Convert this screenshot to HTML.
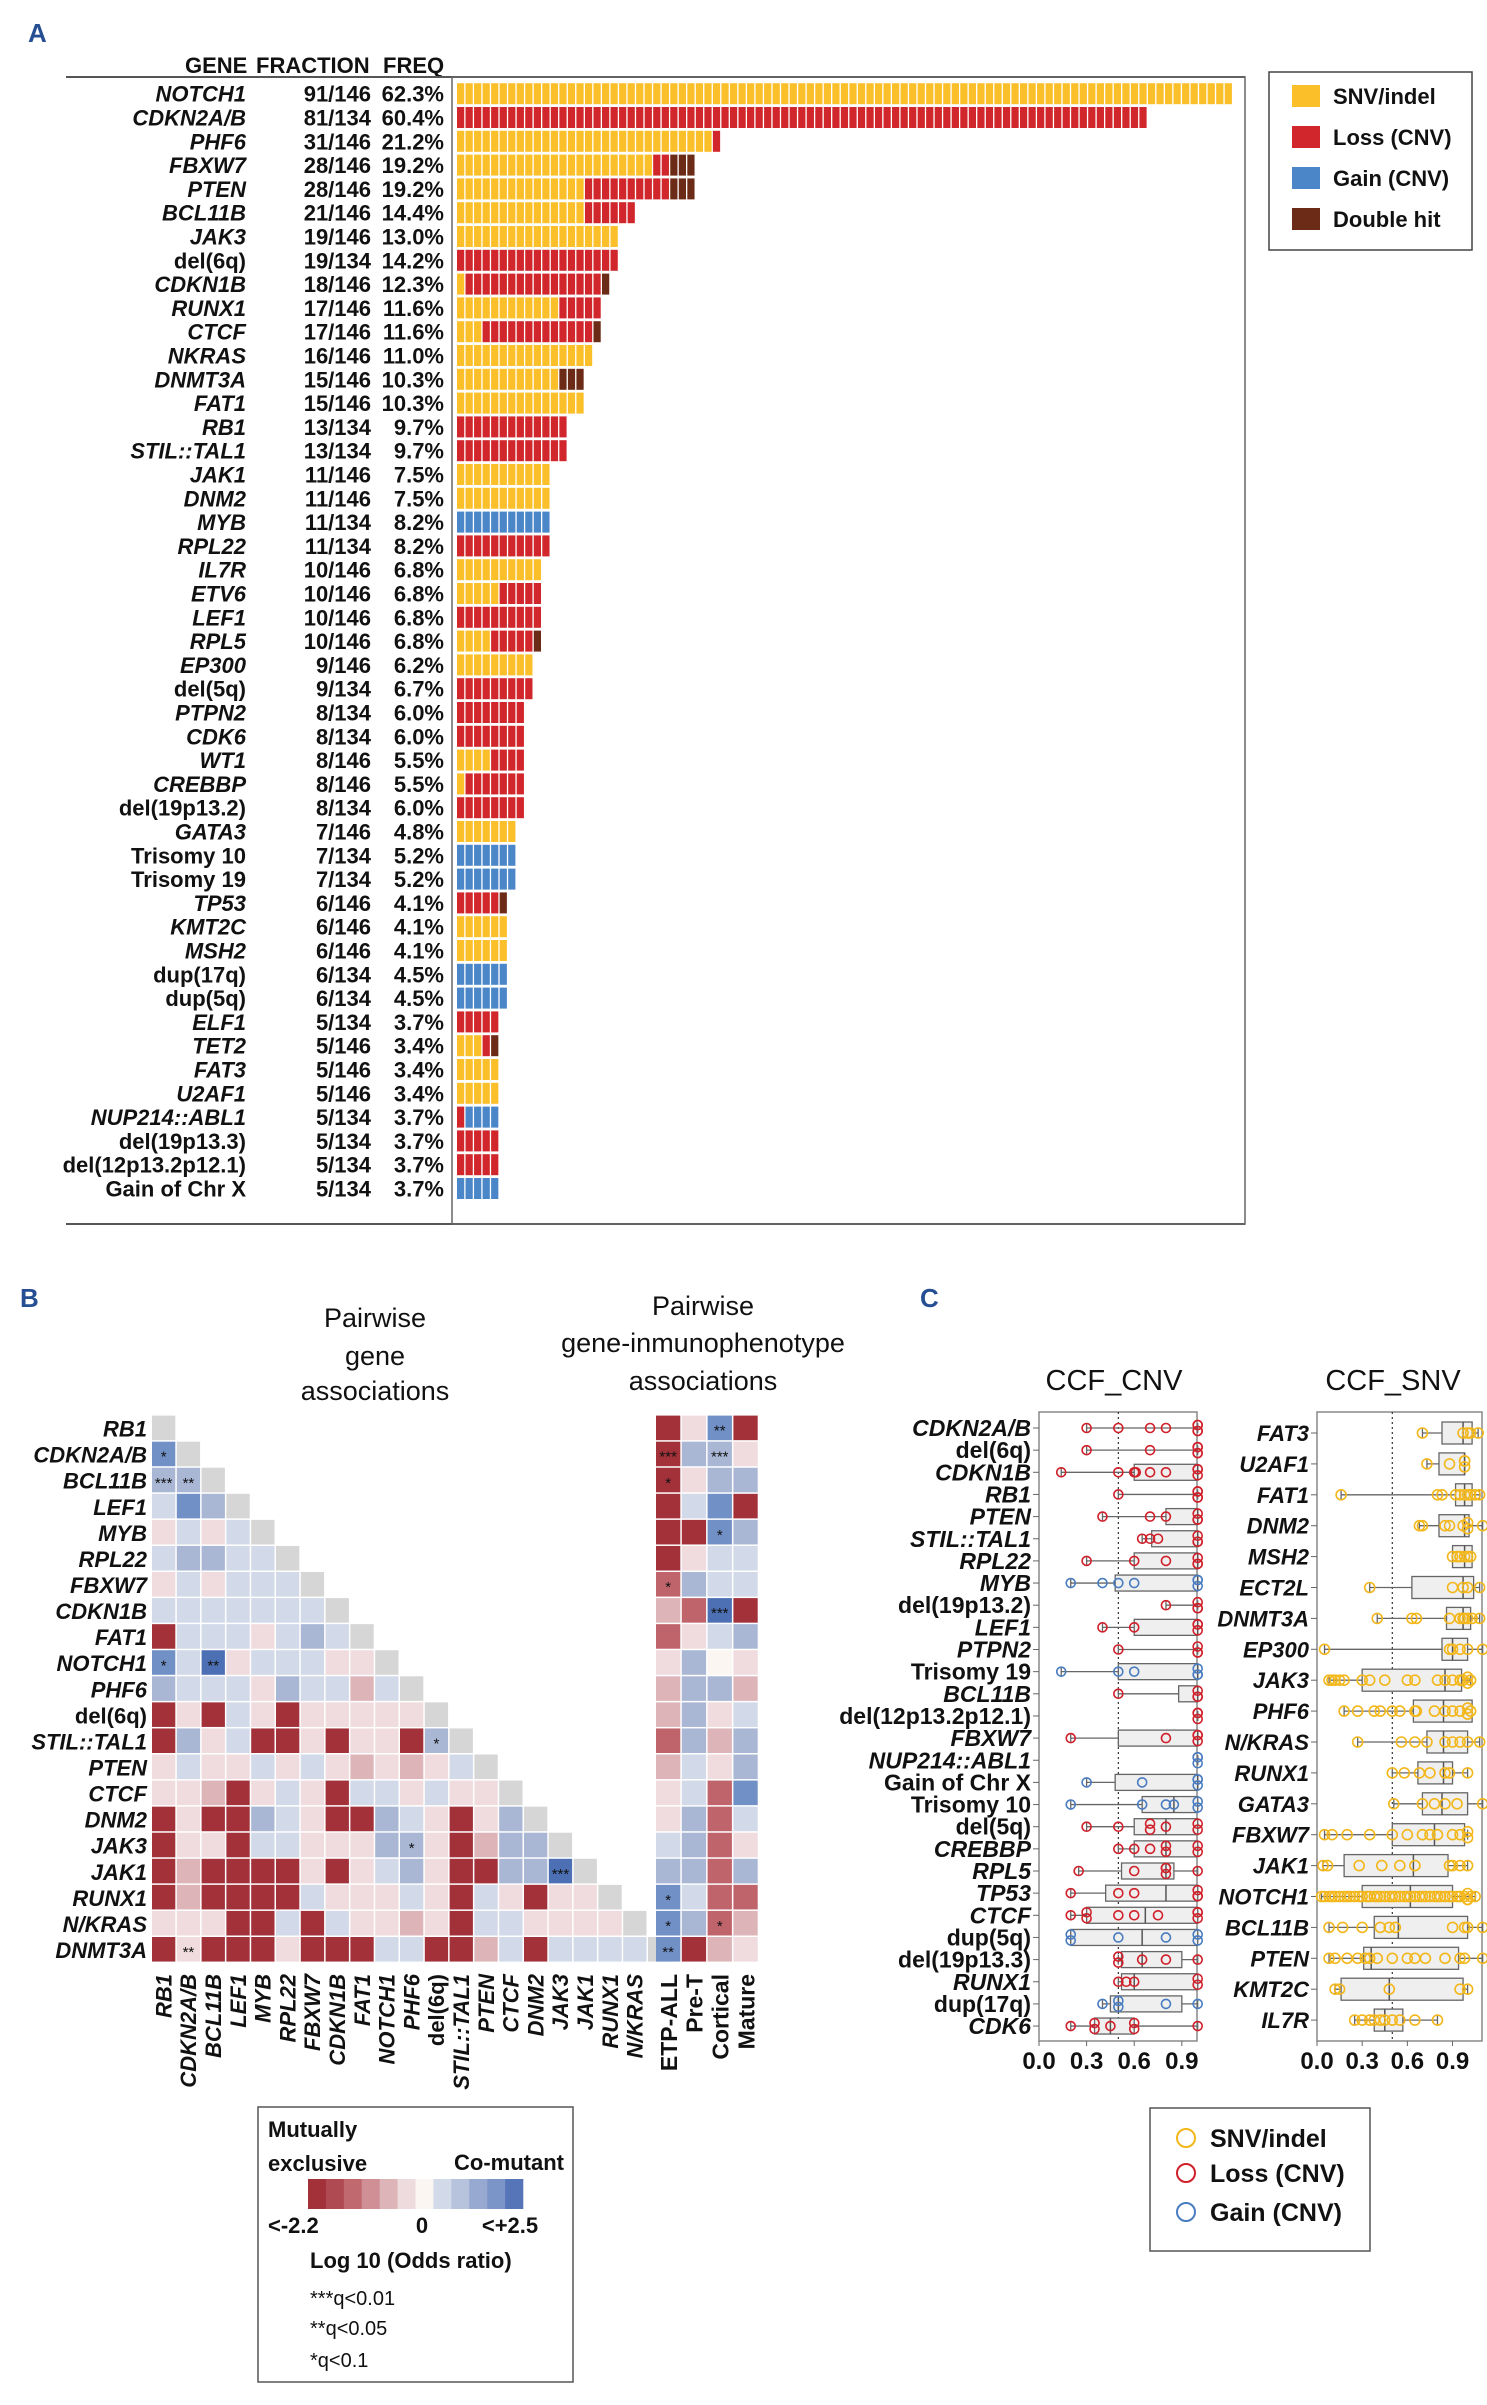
<!DOCTYPE html>
<html><head><meta charset="utf-8">
<style>
html,body{margin:0;padding:0;background:#fff;}
svg{display:block;}
text{font-family:"Liberation Sans Narrow","Liberation Sans",sans-serif;fill:#111;}
.b{font-family:"Liberation Sans",sans-serif;font-weight:bold;}
</style></head>
<body>
<svg id="fig" xmlns="http://www.w3.org/2000/svg" width="1487" height="2405" viewBox="0 0 1487 2405">
<rect x="0" y="0" width="1487" height="2405" fill="#fff"/>
</svg>
<script>
// ---------- Panel A data ----------
const aGenes=["NOTCH1","CDKN2A/B","PHF6","FBXW7","PTEN","BCL11B","JAK3","del(6q)","CDKN1B","RUNX1","CTCF","NKRAS","DNMT3A","FAT1","RB1","STIL::TAL1","JAK1","DNM2","MYB","RPL22","IL7R","ETV6","LEF1","RPL5","EP300","del(5q)","PTPN2","CDK6","WT1","CREBBP","del(19p13.2)","GATA3","Trisomy 10","Trisomy 19","TP53","KMT2C","MSH2","dup(17q)","dup(5q)","ELF1","TET2","FAT3","U2AF1","NUP214::ABL1","del(19p13.3)","del(12p13.2p12.1)","Gain of Chr X"];
const aFrac=["91/146","81/134","31/146","28/146","28/146","21/146","19/146","19/134","18/146","17/146","17/146","16/146","15/146","15/146","13/134","13/134","11/146","11/146","11/134","11/134","10/146","10/146","10/146","10/146","9/146","9/134","8/134","8/134","8/146","8/146","8/134","7/146","7/134","7/134","6/146","6/146","6/146","6/134","6/134","5/134","5/146","5/146","5/146","5/134","5/134","5/134","5/134"];
const aFreq=["62.3%","60.4%","21.2%","19.2%","19.2%","14.4%","13.0%","14.2%","12.3%","11.6%","11.6%","11.0%","10.3%","10.3%","9.7%","9.7%","7.5%","7.5%","8.2%","8.2%","6.8%","6.8%","6.8%","6.8%","6.2%","6.7%","6.0%","6.0%","5.5%","5.5%","6.0%","4.8%","5.2%","5.2%","4.1%","4.1%","4.1%","4.5%","4.5%","3.7%","3.4%","3.4%","3.4%","3.7%","3.7%","3.7%","3.7%"];
const aSnv   =[91,0,30,23,15,15,19,0,1,12,3,16,12,15,0,0,11,11,0,0,10,5,0,4,9,0,0,0,4,1,0,7,0,0,0,6,6,0,0,0,3,5,5,0,0,0,0];
const aLoss  =[0,81,1,2,10,6,0,19,16,5,13,0,0,0,13,13,0,0,0,11,0,5,10,5,0,9,8,8,4,7,8,0,0,0,5,0,0,0,0,5,1,0,0,1,5,5,0];
const aGain  =[0,0,0,0,0,0,0,0,0,0,0,0,0,0,0,0,0,0,11,0,0,0,0,0,0,0,0,0,0,0,0,0,7,7,0,0,0,6,6,0,0,0,0,4,0,0,5];
const aDouble=[0,0,0,3,3,0,0,0,1,0,1,0,3,0,0,0,0,0,0,0,0,0,0,1,0,0,0,0,0,0,0,0,0,0,1,0,0,0,0,0,1,0,0,0,0,0,0];
const aLegend=["SNV/indel","Loss (CNV)","Gain (CNV)","Double hit"];

// ---------- Panel B data ----------
const bGenes=["RB1","CDKN2A/B","BCL11B","LEF1","MYB","RPL22","FBXW7","CDKN1B","FAT1","NOTCH1","PHF6","del(6q)","STIL::TAL1","PTEN","CTCF","DNM2","JAK3","JAK1","RUNX1","N/KRAS","DNMT3A"];
const bPhenos=["ETP-ALL","Pre-T","Cortical","Mature"];
const bPair=["","B","mm","bBm","rbrb","bmmbb","rbrbbb","bbbbbbb","Dbbbrbmb","BbSrbbbrr","mbbbrmbbpb","DrDbrDrrrrr","DmrbDDrDrrDm","rbrrbrbrprprb","rrpDrbrDbbrbrr","DrDDmbrDDmbrDrm","DrrDbbrrrmmrDpmm","DpDDDDrDrbmrDDmmS","DpDDDDbrrrbrDbrDrr","rrrDDbDbrrprDbbrrrr","DrDDDrDDDbbDDpbDbbbb"];
const bPairStars=[[1,0,"*"],[2,0,"***"],[2,1,"**"],[9,0,"*"],[9,2,"**"],[12,11,"*"],[16,10,"*"],[17,16,"***"],[20,1,"**"]];
const bPhen=["DrBD","Dmmr","Drmm","DbBD","DDBm","Drbb","Rmbb","pRSD","Rrbm","rmwr","pmmp","pmrb","Rmpm","pbrm","rbRB","rmRb","bmRr","mmRm","BbRR","BmRp","BDpr"];
const bPhenStars=[[0,2,"**"],[1,0,"***"],[1,2,"***"],[2,0,"*"],[4,2,"*"],[6,0,"*"],[7,2,"***"],[18,0,"*"],[19,0,"*"],[19,2,"*"],[20,0,"**"]];
const bScale=["#a2313a","#b04a52","#c06a70","#cf8f94","#ddb5b9","#eedbdd","#fbf6f2","#d2d9e8","#b7c3dd","#97a9d1","#7c95c8","#5675b8"];
const bScaleLabels=["<-2.2","0","<+2.5"];

// ---------- Panel C data ----------
const cnvGenes=["CDKN2A/B","del(6q)","CDKN1B","RB1","PTEN","STIL::TAL1","RPL22","MYB","del(19p13.2)","LEF1","PTPN2","Trisomy 19","BCL11B","del(12p13.2p12.1)","FBXW7","NUP214::ABL1","Gain of Chr X","Trisomy 10","del(5q)","CREBBP","RPL5","TP53","CTCF","dup(5q)","del(19p13.3)","RUNX1","dup(17q)","CDK6"];
const cnvType=["L","L","L","L","L","L","L","G","L","L","L","G","L","L","L","G","G","G","L","L","L","L","L","G","L","L","G","L"];
const cnvQ1 =[null,null,0.6,null,0.8,0.71,0.6,0.48,null,0.6,null,0.5,0.88,null,0.5,null,0.48,0.65,0.6,0.6,0.52,0.42,0.3,0.2,0.52,0.52,0.45,0.35];
const cnvMed=[null,null,1,null,1,1,1,1,null,1,null,1,1,null,1,null,1,0.85,0.8,0.8,0.8,0.8,0.67,0.65,0.65,0.6,0.5,0.45];
const cnvQ3 =[null,null,1,null,1,1,1,1,null,1,null,1,1,null,1,null,1,1,1,1,0.85,1,1,1,0.9,1,0.9,0.6];
const cnvPts=[[0.3,0.5,0.7,0.8,1,1,1,1],[0.3,0.7,1,1,1,1],[0.14,0.5,0.6,0.61,0.7,0.8,1,1,1],[0.5,1,1,1,1],[0.4,0.7,0.8,1,1,1],[0.65,0.7,0.75,1,1,1],[0.3,0.6,0.8,1,1,1],[0.2,0.4,0.5,0.6,1,1,1],[0.8,1,1,1],[0.4,0.6,1,1,1],[0.5,1,1,1],[0.14,0.5,0.6,1,1,1],[0.5,1,1,1],[1,1,1],[0.2,0.8,1,1,1],[1,1,1],[0.3,0.65,1,1,1],[0.2,0.65,0.8,0.85,1,1],[0.3,0.5,0.7,0.7,0.8,1,1],[0.5,0.6,0.7,0.8,0.8,1,1],[0.25,0.6,0.8,0.8,0.8,1],[0.2,0.5,0.6,1,1,1],[0.2,0.3,0.3,0.5,0.6,0.75,1,1,1],[0.2,0.2,0.5,0.8,1,1],[0.5,0.5,0.65,0.8,1],[0.5,0.55,0.6,1,1],[0.4,0.5,0.5,0.8,1],[0.2,0.35,0.35,0.45,0.6,0.6,1]];
const snvGenes=["FAT3","U2AF1","FAT1","DNM2","MSH2","ECT2L","DNMT3A","EP300","JAK3","PHF6","N/KRAS","RUNX1","GATA3","FBXW7","JAK1","NOTCH1","BCL11B","PTEN","KMT2C","IL7R"];
const snvQ1 =[0.83,0.81,0.92,0.81,0.9,0.63,0.86,0.83,0.3,0.64,0.73,0.67,0.7,0.5,0.18,0.3,0.38,0.31,0.16,0.38];
const snvMed=[0.97,0.98,0.98,0.98,0.98,0.97,0.97,0.9,0.85,0.84,0.84,0.84,0.83,0.78,0.64,0.62,0.54,0.36,0.48,0.45];
const snvQ3 =[1.03,0.98,1.03,1.01,1.03,1.04,1.02,1.0,0.96,1.03,1.0,0.9,1.0,0.98,0.87,0.9,1.0,0.94,0.97,0.57];
const snvPts=[[0.7,0.97,1.0,1.02,1.07],[0.73,0.88,0.98,0.98,0.98],[0.16,0.8,0.83,0.92,0.95,0.98,1,1.02,1.05,1.08],[0.68,0.7,0.85,0.88,0.97,1,1.0,1.1],[0.9,0.93,0.95,0.98,1.0,1.02],[0.35,0.9,0.97,1.0,1.08],[0.4,0.63,0.66,0.88,0.95,0.97,0.98,1.0,1.03,1.08],[0.05,0.88,0.9,0.95,1,1.1],[0.08,0.1,0.12,0.15,0.18,0.3,0.35,0.45,0.6,0.65,0.8,0.85,0.9,0.95,0.97,1.0,1.0,1.02],[0.18,0.27,0.38,0.42,0.5,0.55,0.65,0.66,0.78,0.85,0.9,0.95,1.0,1.0,1.02],[0.27,0.56,0.65,0.73,0.85,0.9,0.95,1.0,1.08],[0.5,0.58,0.68,0.75,0.85,0.88,1.0],[0.51,0.7,0.78,0.85,0.93,1.1],[0.05,0.1,0.2,0.35,0.5,0.6,0.7,0.75,0.8,0.9,0.95,1.0,1.0],[0.04,0.07,0.28,0.43,0.55,0.65,0.88,0.9,0.95,1.0],[0.03,0.05,0.08,0.1,0.12,0.15,0.18,0.2,0.22,0.25,0.28,0.3,0.33,0.35,0.38,0.4,0.42,0.45,0.48,0.5,0.52,0.55,0.58,0.6,0.62,0.65,0.68,0.7,0.72,0.75,0.78,0.8,0.82,0.85,0.88,0.9,0.93,0.95,0.98,1.0,1.0,1.0,1.02,1.05],[0.08,0.17,0.3,0.42,0.48,0.52,0.9,0.98,1.0,1.1],[0.08,0.12,0.2,0.27,0.32,0.35,0.4,0.5,0.6,0.65,0.72,0.85,0.95,0.98,1.1],[0.12,0.15,0.48,0.95,1.0],[0.25,0.3,0.35,0.38,0.42,0.45,0.5,0.55,0.65,0.8]];
const cTicks=[0.0,0.3,0.6,0.9];

const NS="http://www.w3.org/2000/svg";
const svg=document.getElementById("fig");
function mk(tag,attrs,name,parent){
  const el=document.createElementNS(NS,tag);
  for(const k in attrs) el.setAttribute(k,attrs[k]);
  
  
  (parent||svg).appendChild(el);
  return el;
}
function txt(x,y,s,name,attrs){
  const a=Object.assign({x:x,y:y},attrs||{});
  const t=mk("text",a,name);
  t.textContent=s;
  return t;
}
const cyto=s=>/^(del|dup|Trisomy|Gain)/.test(s);
const BLUE="#254f92";

// ================= PANEL A =================
txt(28,42,"A","panel-a-label",{"class":"b","font-size":"26",style:"fill:"+BLUE});
txt(185,73,"GENE","header-gene",{"font-size":"22","font-weight":"bold"});
txt(256,73,"FRACTION","header-fraction",{"font-size":"22","font-weight":"bold"});
txt(383,73,"FREQ","header-freq",{"font-size":"22","font-weight":"bold"});
mk("line",{x1:66,y1:77,x2:1245,y2:77,stroke:"#555","stroke-width":"2"},"table-top-rule");
mk("line",{x1:66,y1:1224,x2:1245,y2:1224,stroke:"#555","stroke-width":"2"},"table-bottom-rule");
mk("rect",{x:452,y:77,width:793,height:1147,fill:"none",stroke:"#666","stroke-width":"1.5"},"bar-plot-frame");
const aX0=457,aU=8.53,aY0=93.7,aDY=23.8;
const aCols=["#fbbf2a","#d1262b","#4a86c8","#6b2b17"];
aGenes.forEach((g,i)=>{
  const cy=aY0+i*aDY;
  txt(246,cy+8,g,"gene-label",{"font-size":"22","font-weight":"bold","text-anchor":"end","font-style":cyto(g)?"normal":"italic"});
  txt(371,cy+8,aFrac[i],"fraction-label",{"font-size":"22","font-weight":"bold","text-anchor":"end"});
  txt(444,cy+8,aFreq[i],"freq-label",{"font-size":"22","font-weight":"bold","text-anchor":"end"});
  const counts=[aSnv[i],aLoss[i],aGain[i],aDouble[i]];
  let u=0;
  counts.forEach((c,k)=>{
    for(let j=0;j<c;j++){
      mk("rect",{x:aX0+u*aU,y:cy-10.5,width:aU-1.3,height:21,fill:aCols[k]},"bar-unit");
      u++;
    }
  });
});
mk("rect",{x:1269,y:72,width:203,height:178,fill:"#fff",stroke:"#444","stroke-width":"1.5"},"legend-a-box");
aLegend.forEach((s,k)=>{
  const cy=96+k*41;
  mk("rect",{x:1292,y:cy-11,width:28,height:22,fill:aCols[k]},"legend-a-swatch");
  txt(1333,cy+8,s,"legend-a-entry",{"font-size":"22","font-weight":"bold"});
});

// ================= PANEL B =================
txt(20,1307,"B","panel-b-label",{"class":"b","font-size":"26",style:"fill:"+BLUE});
txt(920,1307,"C","panel-c-label",{"class":"b","font-size":"26",style:"fill:"+BLUE});
[["Pairwise",1327],["gene",1365],["associations",1400]].forEach(a=>txt(375,a[1],a[0],"pairwise-gene-title",{"font-size":"27","text-anchor":"middle","font-family":"Liberation Sans"}));
[["Pairwise",1315],["gene-inmunophenotype",1352],["associations",1390]].forEach(a=>txt(703,a[1],a[0],"pairwise-phenotype-title",{"font-size":"27","text-anchor":"middle","font-family":"Liberation Sans"}));
const hmX0=152,hmDX=24.8,hmY0=1415.6,hmDY=26.07,phX0=656,phDX=25.8;
const cmap={D:"#a2313a",R:"#c0646c",p:"#ddb5b9",r:"#f0dcde",w:"#fbf6f2",b:"#d2d9e8",m:"#a9b7d5",B:"#7090c6",S:"#4d70b5"};
bGenes.forEach((g,i)=>{
  const y=hmY0+i*hmDY;
  txt(147,y+21,g,"heatmap-row-label",{"class":"b","font-size":"22","text-anchor":"end","font-style":cyto(g)?"normal":"italic"});
  const row=bPair[i];
  for(let j=0;j<row.length;j++){
    mk("rect",{x:hmX0+j*hmDX,y:y,width:hmDX-1.5,height:hmDY-1.5,fill:cmap[row[j]]},"pair-cell");
  }
  mk("rect",{x:hmX0+i*hmDX,y:y,width:hmDX-1.5,height:hmDY-1.5,fill:"#d6d6d6"},"diagonal-cell");
  const prow=bPhen[i];
  for(let j=0;j<4;j++){
    mk("rect",{x:phX0+j*phDX,y:y,width:phDX-1.5,height:hmDY-1.5,fill:cmap[prow[j]]},"phenotype-cell");
  }
});
bPairStars.forEach(s=>txt(hmX0+s[1]*hmDX+hmDX/2-0.75,hmY0+s[0]*hmDY+hmDY/2+7,s[2],"significance-star",{"font-size":"15","text-anchor":"middle","font-family":"Liberation Sans"}));
bPhenStars.forEach(s=>txt(phX0+s[1]*phDX+phDX/2-0.75,hmY0+s[0]*hmDY+hmDY/2+7,s[2],"significance-star",{"font-size":"15","text-anchor":"middle","font-family":"Liberation Sans"}));
bGenes.slice(0,20).forEach((g,j)=>{
  const cx=hmX0+j*hmDX+hmDX/2+7;
  txt(0,0,g,"heatmap-col-label",{"class":"b","font-size":"22","text-anchor":"end","font-style":cyto(g)?"normal":"italic",transform:"translate("+cx+",1974) rotate(-90)"});
});
bPhenos.forEach((g,j)=>{
  const cx=phX0+j*phDX+phDX/2+8;
  txt(0,0,g,"phenotype-col-label",{"class":"b","font-size":"23","text-anchor":"end",transform:"translate("+cx+",1974) rotate(-90)"});
});
// legend B
mk("rect",{x:258,y:2107,width:315,height:275,fill:"#fff",stroke:"#555","stroke-width":"1.5"},"legend-b-box");
txt(268,2137,"Mutually","legend-mutually",{"font-size":"22","font-weight":"bold"});
txt(268,2171,"exclusive","legend-exclusive",{"font-size":"22","font-weight":"bold"});
txt(564,2170,"Co-mutant","legend-comutant",{"font-size":"22","font-weight":"bold","text-anchor":"end"});
const sw=(523-308)/bScale.length;
bScale.forEach((c,k)=>mk("rect",{x:308+k*sw,y:2179,width:sw+0.3,height:30,fill:c},"color-scale-step"));
txt(268,2233,bScaleLabels[0],"scale-min-label",{"font-size":"22","font-weight":"bold"});
txt(422,2233,bScaleLabels[1],"scale-zero-label",{"font-size":"22","font-weight":"bold","text-anchor":"middle"});
txt(510,2233,bScaleLabels[2],"scale-max-label",{"font-size":"22","font-weight":"bold","text-anchor":"middle"});
txt(310,2268,"Log 10 (Odds ratio)","scale-title",{"font-size":"22","font-weight":"bold"});
txt(310,2305,"***q<0.01","legend-q001",{"font-size":"20"});
txt(310,2335,"**q<0.05","legend-q005",{"font-size":"20"});
txt(310,2367,"*q<0.1","legend-q01",{"font-size":"20"});

// ================= PANEL C =================
const ccol={L:"#d0202a",G:"#4a7cc0",S:"#f3b71b"};
function boxPanel(x0,x1,unit,yTop,yBot,genes,q1,med,q3,pts,types,yStart,dy,bh,pr,lblFont,name){
  mk("rect",{x:x0,y:yTop,width:x1-x0,height:yBot-yTop,fill:"#fff",stroke:"#888","stroke-width":"1.5"},name+"-frame");
  const X=v=>x0+v*unit;
  mk("line",{x1:X(0.5),y1:yTop,x2:X(0.5),y2:yBot,stroke:"#333","stroke-width":"1.2","stroke-dasharray":"2,3"},name+"-threshold-line");
  cTicks.forEach(t=>{
    mk("line",{x1:X(t),y1:yBot,x2:X(t),y2:yBot+5,stroke:"#666"},name+"-tick");
    txt(X(t),2069,t.toFixed(1),name+"-tick-label",{"class":"b","font-size":"24","text-anchor":"middle"});
  });
  genes.forEach((g,i)=>{
    const cy=yStart+i*dy;
    const col=ccol[types[i]];
    mk("line",{x1:x0-6,y1:cy,x2:x0,y2:cy,stroke:"#666"},name+"-row-tick");
    txt(x0-8,cy+8,g,name+"-row-label",{"class":"b","font-size":lblFont,"text-anchor":"end","font-style":cyto(g)?"normal":"italic"});
    const p=pts[i];
    const lo=Math.min(...p),hi=Math.max(...p);
    mk("line",{x1:X(lo),y1:cy,x2:X(hi),y2:cy,stroke:"#666","stroke-width":"1.3"},name+"-whisker");
    mk("line",{x1:X(lo),y1:cy-5,x2:X(lo),y2:cy+5,stroke:"#666","stroke-width":"1.3"},name+"-whisker-cap");
    mk("line",{x1:X(hi),y1:cy-5,x2:X(hi),y2:cy+5,stroke:"#666","stroke-width":"1.3"},name+"-whisker-cap");
    if(q1[i]!==null){
      mk("rect",{x:X(q1[i]),y:cy-bh/2,width:Math.max(0.5,X(q3[i])-X(q1[i])),height:bh,fill:"#efefef",stroke:"#666","stroke-width":"1.3"},name+"-box");
      mk("line",{x1:X(med[i]),y1:cy-bh/2,x2:X(med[i]),y2:cy+bh/2,stroke:"#555","stroke-width":"1.5"},name+"-median");
    }
    p.forEach((v,k)=>{
      const jit=(k%2?1:-1)*(p.filter(w=>w===v).length>1?3:0);
      mk("circle",{cx:X(v),cy:cy+jit,r:pr,fill:"none",stroke:col,"stroke-width":"1.6"},name+"-point");
    });
  });
}
txt(1114,1390,"CCF_CNV","ccf-cnv-title",{"font-size":"29","text-anchor":"middle","font-family":"Liberation Sans"});
txt(1393,1390,"CCF_SNV","ccf-snv-title",{"font-size":"29","text-anchor":"middle","font-family":"Liberation Sans"});
boxPanel(1039,1197,158.7,1412,2041,cnvGenes,cnvQ1,cnvMed,cnvQ3,cnvPts,cnvType,1428,22.15,16,4.5,"23","cnv");
boxPanel(1317,1482,150.6,1412,2041,snvGenes,snvQ1,snvMed,snvQ3,snvPts,snvGenes.map(()=>"S"),1433,30.9,22,5,"22","snv");
// legend C
mk("rect",{x:1150,y:2108,width:220,height:143,fill:"#fff",stroke:"#555","stroke-width":"1.5"},"legend-c-box");
[["SNV/indel","S",2138],["Loss (CNV)","L",2173],["Gain (CNV)","G",2212]].forEach(e=>{
  mk("circle",{cx:1186,cy:e[2],r:9,fill:"none",stroke:ccol[e[1]],"stroke-width":"2"},"legend-c-marker");
  txt(1210,e[2]+9,e[0],"legend-c-entry",{"font-size":"25","font-weight":"bold"});
});
</script>
</body></html>
